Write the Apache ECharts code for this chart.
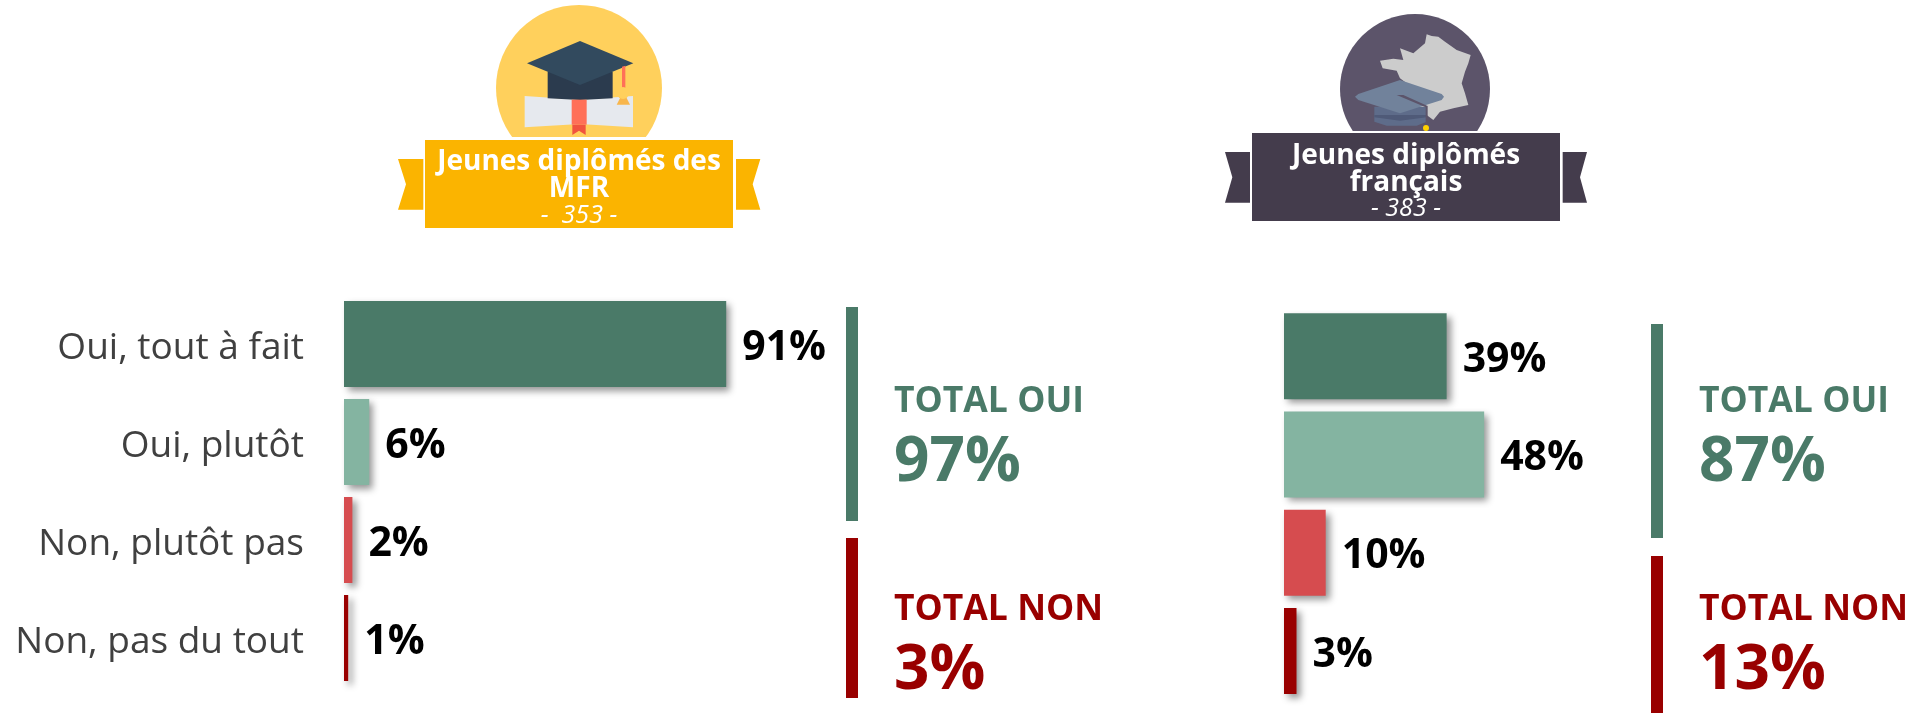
<!DOCTYPE html>
<html><head><meta charset="utf-8">
<style>html,body{margin:0;padding:0;background:#fff}#c{width:1918px;height:713px}</style>
<script src="https://cdn.jsdelivr.net/npm/echarts@6/dist/echarts.min.js"></script>
</head><body><div id="c"></div>
<script>
const categories = ['Oui, tout à fait','Oui, plutôt','Non, plutôt pas','Non, pas du tout'];
const mfrValues = [91,6,2,1];
const frValues = [39,48,10,3];
const barColors = ['#4A7A68','#84B4A1','#D64C4F','#990000'];
const mfrTotals = ['97%','3%'];
const frTotals = ['87%','13%'];
const totalTitles = ['TOTAL OUI','TOTAL NON'];
const mfrTitle = ['Jeunes diplômés des','MFR','-  353 -'];
const frTitle = ['Jeunes diplômés','français','- 383 -'];

const FONT = '"Open Sans","Noto Sans",sans-serif';
const GREEN = barColors[0], RED = barColors[3];

const z = (ox, pts) => pts.map(p => [ox + p[0]/3, p[1]/3]);
const poly = (ox, pts, fill) => ({type:'polygon', shape:{points:z(ox,pts)}, style:{fill}});
const rect = (x,y,w,h,fill) => ({type:'rect', shape:{x,y,width:w,height:h}, style:{fill}});
const circ = (cx,cy,r,fill) => ({type:'circle', shape:{cx,cy,r}, style:{fill}});
const txt = (x,y,text,font,fill,align) => ({type:'text', x, y, style:{text, font, fill, textAlign:align||'center', textVerticalAlign:'middle'}});

function series(values, idx){
  return {type:'bar', xAxisIndex:idx, yAxisIndex:idx, barWidth:86,
    data: values.map((v,i)=>({value:v, itemStyle:{color:barColors[i]}})),
    itemStyle:{shadowBlur:7, shadowOffsetX:4, shadowOffsetY:4, shadowColor:'rgba(0,0,0,0.42)'},
    label:{show:true, position:'right', distance:16, offset:[0,4], formatter:'{c}%', color:'#000',
      fontFamily:FONT, fontWeight:'bold', fontSize:41},
    silent:true};
}

function totals(x, barX, y1, y2, y3, y4, vals){
  return [
    rect(barX,y1,12,y2-y1,GREEN), rect(barX,y3,12,y4-y3,RED),
    txt(x,402,totalTitles[0],'bold 35.5px '+FONT,GREEN,'left'),
    txt(x,463,vals[0],'bold 62px '+FONT,GREEN,'left'),
    txt(x,610,totalTitles[1],'bold 35.5px '+FONT,RED,'left'),
    txt(x,671,vals[1],'bold 62px '+FONT,RED,'left')
  ];
}

const ox1 = 380, ox2 = 1200, Y = '#FBB400', D = '#443C4C';
const badge1 = [
  circ(579,88,83,'#FFD05C'),
  poly(ox1,[[434,288],[600,299],[759,288],[759,382],[600,372],[434,382]],'#E6E9EE'),
  poly(ox1,[[503,215],[698,215],[698,295],[600,300],[503,295]],'#2B3B4E'),
  poly(ox1,[[600,123],[760,190],[600,255],[441,190]],'#324A5E'),
  poly(ox1,[[726,200],[736,197],[736,265],[726,265]],'#FF7058'),
  poly(ox1,[[722,290],[738,290],[750,314],[710,314]],'#F8B64C'),
  {type:'circle', shape:{cx:ox1+729/3, cy:93, r:6}, style:{fill:'#FFD05C'}},
  poly(ox1,[[575,299],[620,299],[620,374],[575,374]],'#FF7058'),
  poly(ox1,[[577,374],[617,374],[617,405],[597,392],[577,405]],'#F1543F'),
  rect(420,137,320,3,'#fff'),
  rect(425,140,308,88,Y),
  poly(ox1,[[54,477],[130,477],[130,629],[54,629],[78,553]],Y),
  poly(ox1,[[1068,477],[1141,477],[1118,553],[1141,629],[1068,629]],Y),
  txt(579,162,mfrTitle[0],'bold 28px '+FONT,'#fff'),
  txt(579,189,mfrTitle[1],'bold 28px '+FONT,'#fff'),
  txt(579,216,mfrTitle[2],'italic 25px '+FONT,'#fff')
];
const badge2 = [
  circ(1415,89,75,'#5C546A'),
  poly(ox2,[[680,103],[695,108],[715,110],[735,125],[770,150],[812,165],[805,190],[795,215],[785,250],[795,280],[805,315],[760,325],[720,335],[700,360],[680,345],[640,300],[620,250],[600,235],[590,212],[548,205],[540,182],[580,176],[610,180],[600,145],[640,160],[675,130]],'#CCCCCC'),
  poly(ox2,[[523,320],[680,320],[680,365],[650,377],[560,377],[523,365]],'#5E6C8A'),
  poly(ox2,[[523,345],[680,345],[680,352],[600,362],[523,352]],'#4F5A78'),
  poly(ox2,[[600,240],[725,282],[732,290],[725,300],[600,340],[475,300],[465,290],[475,282]],'#71829B'),
  poly(ox2,[[590,285],[610,285],[683,318],[683,372],[677,372],[677,322]],'#5C546A'),
  circ(1426,128,3,'#FFD100'),
  rect(1240,131,340,2,'#fff'),
  rect(1252,133,308,88,D),
  poly(ox2,[[75,456],[150,456],[150,608],[75,608],[97,532]],D),
  poly(ox2,[[1088,456],[1161,456],[1140,532],[1161,608],[1088,608]],D),
  txt(1406,156,frTitle[0],'bold 28px '+FONT,'#fff'),
  txt(1406,183,frTitle[1],'bold 28px '+FONT,'#fff'),
  txt(1406,209,frTitle[2],'italic 25px '+FONT,'#fff')
];

const chart = echarts.init(document.getElementById('c'), null, {renderer:'canvas'});
chart.setOption({
  animation:false,
  backgroundColor:'#fff',
  grid:[
    {left:344, top:295, width:420, height:392},
    {left:1284, top:307, width:417, height:393}
  ],
  xAxis:[0,1].map(i=>({gridIndex:i,type:'value',min:0,max:100,show:false})),
  yAxis:[0,1].map(i=>({gridIndex:i,type:'category',inverse:true,data:categories,
    axisLine:{show:false},axisTick:{show:false},
    axisLabel:{show:i===0,margin:40,formatter:v=>'{t|'+v+'}',
      rich:{t:{color:'#404040',fontFamily:FONT,fontSize:37,padding:[8,0,0,0]}}}})),
  series:[series(mfrValues,0),series(frValues,1)],
  graphic:{elements:[
    ...badge1,...badge2,
    ...totals(894,846,307,521,538,698,mfrTotals),
    ...totals(1699,1651,324,538,556,713,frTotals)
  ]}
});
</script></body></html>
